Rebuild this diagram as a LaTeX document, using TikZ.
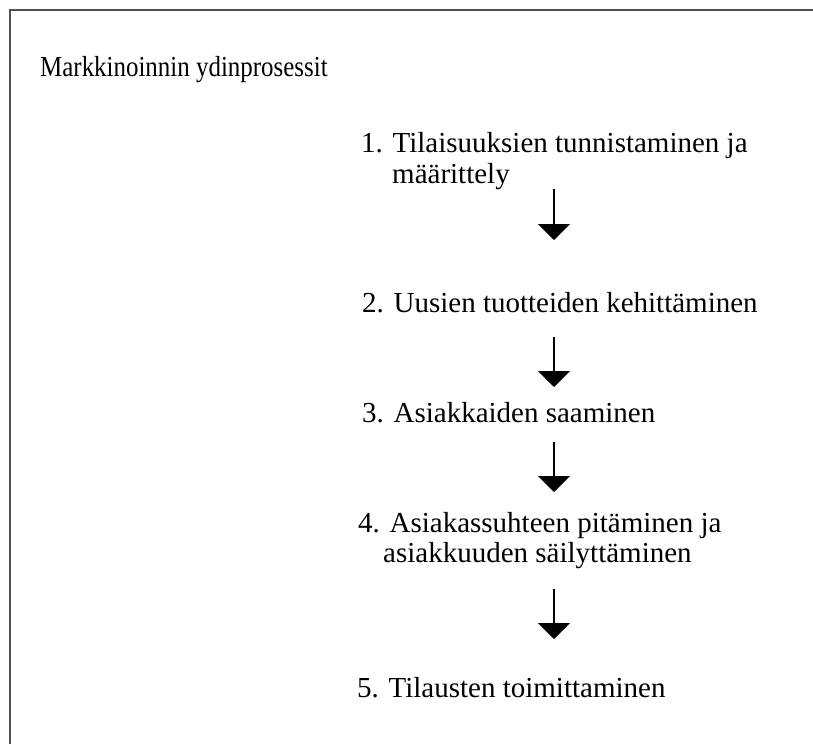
\documentclass[tikz,border=0pt]{standalone}
\usepackage{fontspec}
\setmainfont{Liberation Serif}
\usetikzlibrary{arrows.meta}
\definecolor{framegray}{HTML}{505050}
\begin{document}
\begin{tikzpicture}[x=1pt,y=-1pt,
  txt/.style={anchor=base west,inner sep=0pt,font=\fontsize{29}{34}\selectfont},
  flow/.style={line width=2pt,-{Triangle[width=32pt,length=16pt]}},
  frame/.style={draw=framegray,line width=2pt}]
\useasboundingbox (0,0) rectangle (813,744);
\draw[frame] (10,744) -- (10,10) -- (813,10);
\node[txt] (title) at (40,76) {\scalebox{0.86}[1]{Markkinoinnin ydinprosessit}};
\node[txt] (n1) at (361,152) {1. Tilaisuuksien tunnistaminen ja};
\node[txt] (n1b) at (392,183) {määrittely};
\node[txt] (n2) at (362,312) {2. Uusien tuotteiden kehittäminen};
\node[txt] (n3) at (362,422) {3. Asiakkaiden saaminen};
\node[txt] (n4) at (358,532) {4. Asiakassuhteen pitäminen ja};
\node[txt] (n4b) at (383,562) {asiakkuuden säilyttäminen};
\node[txt] (n5) at (357,697) {5. Tilausten toimittaminen};
\coordinate (a1s) at (554,189); \coordinate (a1e) at (554,240);
\coordinate (a2s) at (554,337); \coordinate (a2e) at (554,387);
\coordinate (a3s) at (554,442); \coordinate (a3e) at (554,492);
\coordinate (a4s) at (554,589); \coordinate (a4e) at (554,639);
\draw[flow] (a1s) -- (a1e);
\draw[flow] (a2s) -- (a2e);
\draw[flow] (a3s) -- (a3e);
\draw[flow] (a4s) -- (a4e);
\end{tikzpicture}
\end{document}
